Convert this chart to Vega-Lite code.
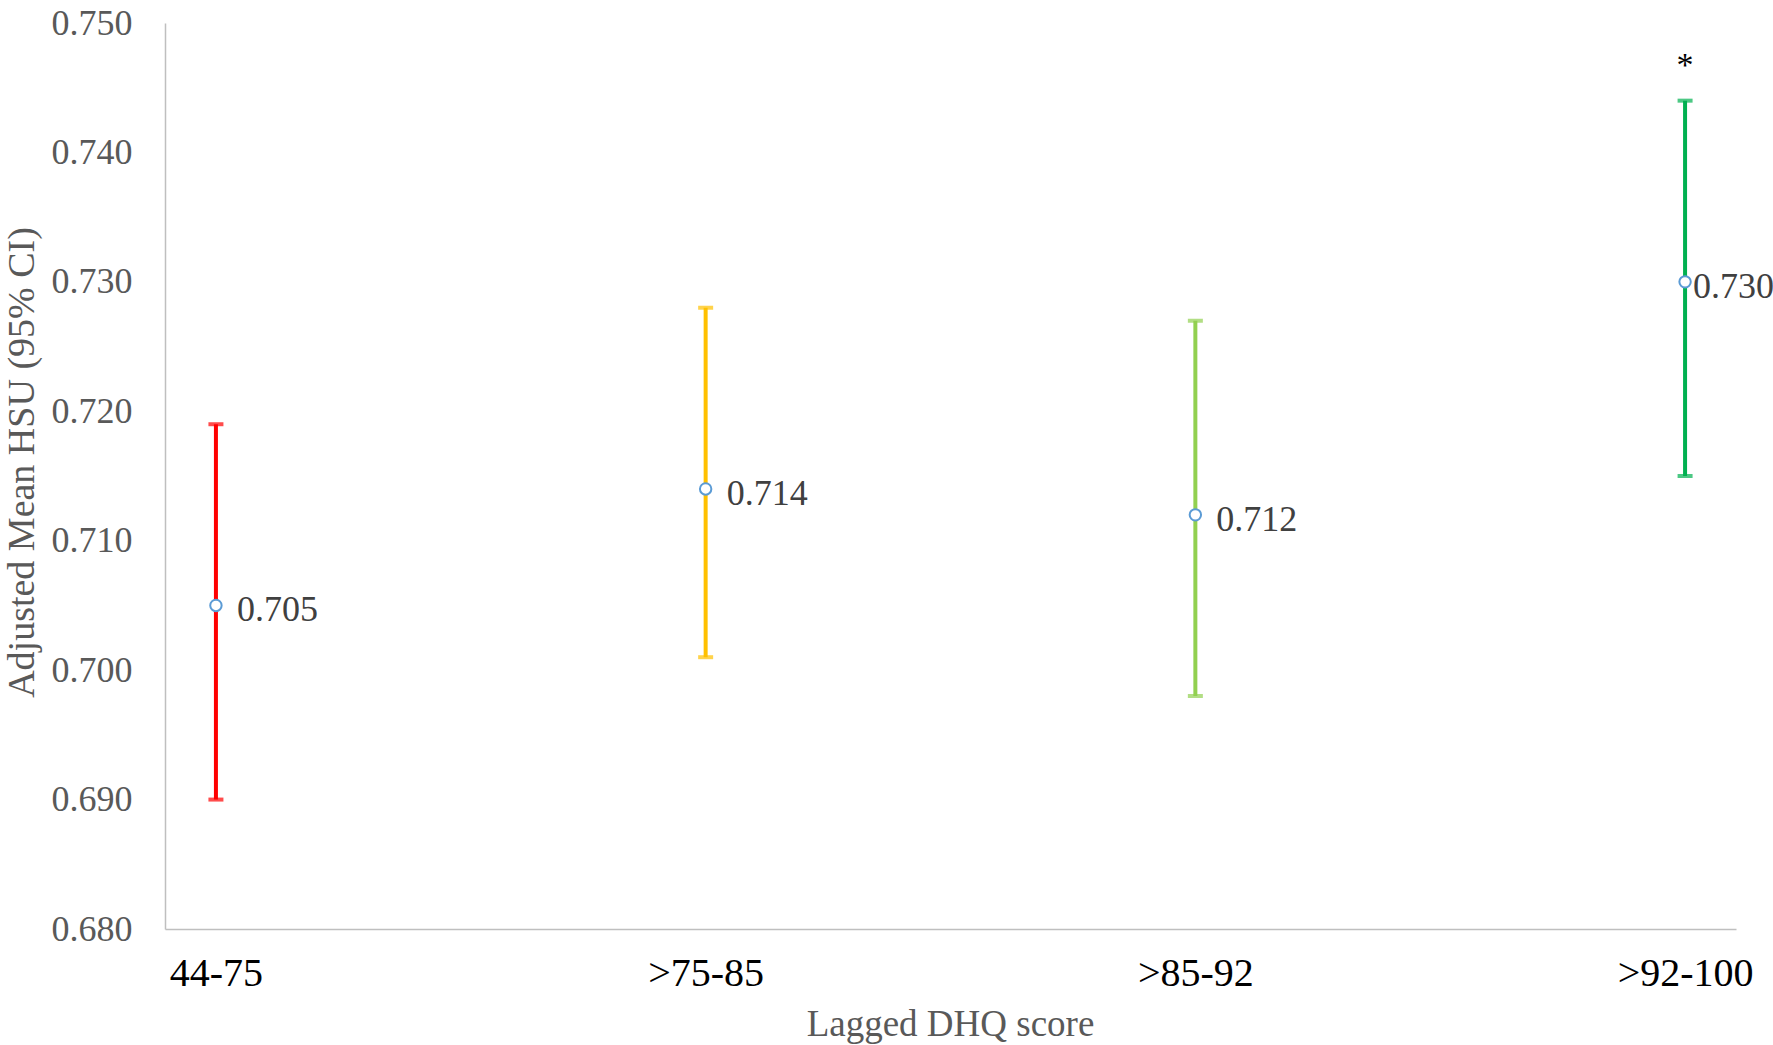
{
  "$schema": "https://vega.github.io/schema/vega-lite/v6.json",
  "autosize": {"type": "none"},
  "padding": {"left": 165, "top": 23, "right": 37, "bottom": 116},
  "width": 1571,
  "height": 906,
  "background": "white",
  "config": {
    "view": {"stroke": null},
    "font": "Liberation Serif",
    "axis": {"grid": false, "ticks": false, "tickSize": 0, "domainColor": "#BFBFBF", "domainWidth": 1.5, "labelFont": "Liberation Serif", "titleFont": "Liberation Serif", "titleFontWeight": "normal"}
  },
  "data": {
    "values": [
      {"group": "44-75", "mean": 0.705, "lower": 0.690, "upper": 0.719, "sig": ""},
      {"group": ">75-85", "mean": 0.714, "lower": 0.701, "upper": 0.728, "sig": ""},
      {"group": ">85-92", "mean": 0.712, "lower": 0.698, "upper": 0.727, "sig": ""},
      {"group": ">92-100", "mean": 0.730, "lower": 0.715, "upper": 0.744, "sig": "*"}
    ]
  },
  "encoding": {
    "x": {
      "field": "group", "type": "ordinal", "sort": null,
      "scale": {"type": "point", "padding": 0.104},
      "axis": {"title": "Lagged DHQ score", "labelAngle": 0, "labelFontSize": 40, "labelColor": "#000000", "labelBaseline": "alphabetic", "labelPadding": 56, "titleFontSize": 37, "titleColor": "#595959", "titleBaseline": "alphabetic", "titleY": 106, "titleX": 785}
    }
  },
  "layer": [
    {
      "mark": {"type": "rule", "strokeWidth": 4},
      "encoding": {
        "y": {"field": "lower", "type": "quantitative", "scale": {"domain": [0.68, 0.75], "nice": false, "zero": false},
          "axis": {"title": "Adjusted Mean HSU (95% CI)", "values": [0.68, 0.69, 0.70, 0.71, 0.72, 0.73, 0.74, 0.75], "format": ".3f", "labelFontSize": 36, "labelColor": "#595959", "labelPadding": 33, "titleFontSize": 38, "titleColor": "#595959", "titleX": -143, "titleY": 439, "titleBaseline": "middle", "titleAlign": "center", "titleAngle": -90}},
        "y2": {"field": "upper"},
        "color": {"field": "group", "type": "nominal", "sort": null, "scale": {"domain": ["44-75", ">75-85", ">85-92", ">92-100"], "range": ["#FF0000", "#FFC000", "#92D050", "#00B050"]}, "legend": null}
      }
    },
    {
      "mark": {"type": "tick", "thickness": 4, "size": 15},
      "encoding": {
        "y": {"field": "upper", "type": "quantitative"},
        "color": {"field": "group", "type": "nominal", "sort": null, "legend": null}
      }
    },
    {
      "mark": {"type": "tick", "thickness": 4, "size": 15},
      "encoding": {
        "y": {"field": "lower", "type": "quantitative"},
        "color": {"field": "group", "type": "nominal", "sort": null, "legend": null}
      }
    },
    {
      "mark": {"type": "point", "shape": "circle", "filled": false, "fill": "white", "fillOpacity": 1, "stroke": "#5B9BD5", "strokeWidth": 2, "size": 130, "opacity": 1},
      "encoding": {
        "y": {"field": "mean", "type": "quantitative"}
      }
    },
    {
      "transform": [{"filter": "datum.group != '>92-100'"}],
      "mark": {"type": "text", "align": "left", "baseline": "middle", "dx": 21, "dy": 5, "fontSize": 36, "color": "#404040"},
      "encoding": {
        "y": {"field": "mean", "type": "quantitative"},
        "text": {"field": "mean", "type": "quantitative", "format": ".3f"}
      }
    },
    {
      "transform": [{"filter": "datum.group == '>92-100'"}],
      "mark": {"type": "text", "align": "left", "baseline": "middle", "dx": 8, "dy": 5, "fontSize": 36, "color": "#404040"},
      "encoding": {
        "y": {"field": "mean", "type": "quantitative"},
        "text": {"field": "mean", "type": "quantitative", "format": ".3f"}
      }
    },
    {
      "transform": [{"filter": "datum.sig != ''"}],
      "mark": {"type": "text", "align": "center", "baseline": "alphabetic", "dy": -25, "fontSize": 34, "color": "#000000"},
      "encoding": {
        "y": {"field": "upper", "type": "quantitative"},
        "text": {"field": "sig", "type": "nominal"}
      }
    }
  ]
}
